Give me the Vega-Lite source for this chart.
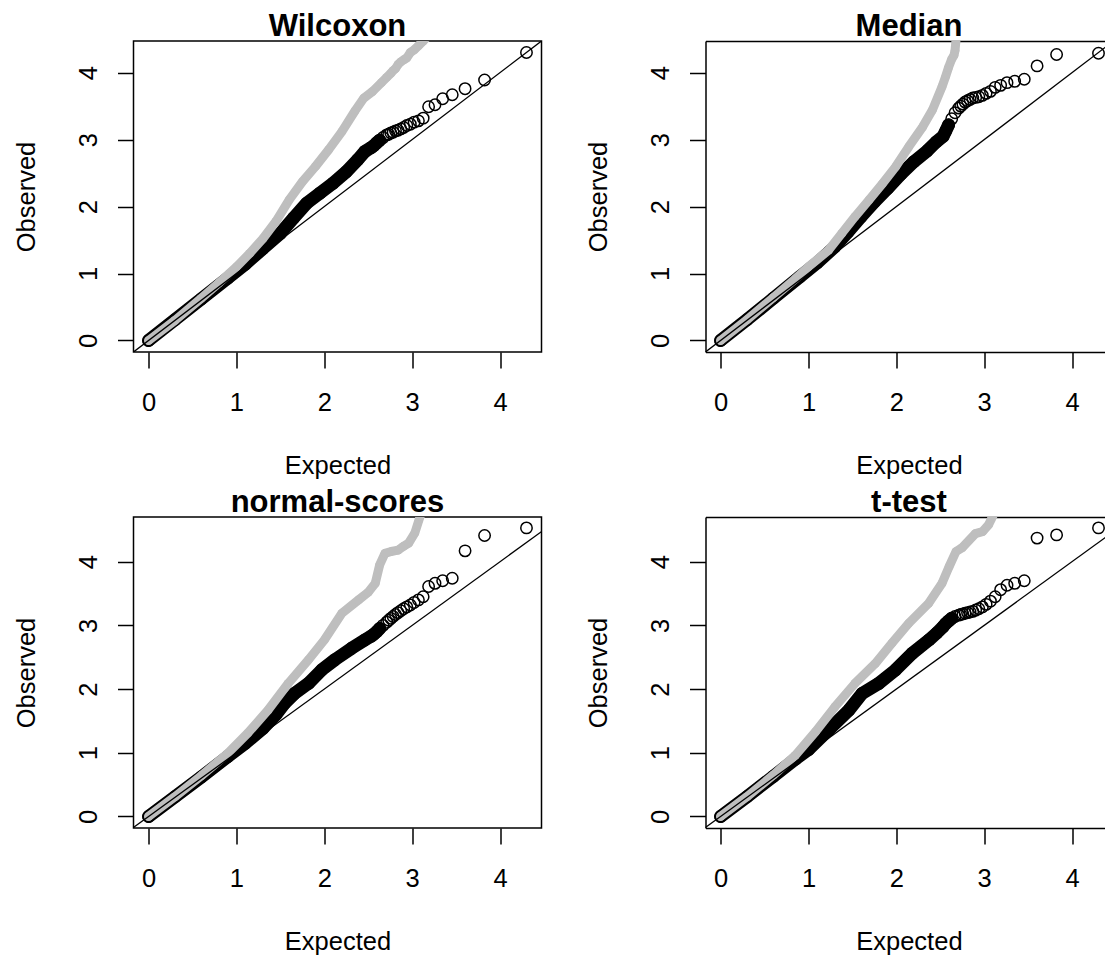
{
  "$schema": "https://vega.github.io/schema/vega-lite/v6.json",
  "padding": {"left": 12.5, "top": 10, "right": 0, "bottom": 0},
  "background": "white",
  "bounds": "flush",
  "columns": 2,
  "spacing": {"row": 165, "column": 164},
  "config": {
    "font": "Liberation Sans",
    "view": {"stroke": "black", "strokeWidth": 1.5},
    "axis": {
      "grid": false,
      "labelFont": "Liberation Sans", "labelFontSize": 25.5, "labelColor": "black",
      "titleFont": "Liberation Sans", "titleFontSize": 25.5, "titleFontWeight": "normal", "titleColor": "black",
      "tickColor": "black", "tickWidth": 1.5, "tickSize": 16,
      "domainColor": "black", "domainWidth": 1.5
    },
    "title": {"font": "Liberation Sans", "fontSize": 31, "fontWeight": "bold", "color": "black", "anchor": "middle", "baseline": "alphabetic", "offset": -2}
  },
  "datasets": {
    "ref": [{"x": -1, "y": -1}, {"x": 6, "y": 6}],
    "pts": [
      {"p": "Wilcoxon", "s": "A", "x": 0, "y": 0},
      {"p": "Wilcoxon", "s": "A", "x": 0.3, "y": 0.31},
      {"p": "Wilcoxon", "s": "A", "x": 0.6, "y": 0.62},
      {"p": "Wilcoxon", "s": "A", "x": 0.9, "y": 0.93},
      {"p": "Wilcoxon", "s": "A", "x": 1.1, "y": 1.14},
      {"p": "Wilcoxon", "s": "A", "x": 1.3, "y": 1.37},
      {"p": "Wilcoxon", "s": "A", "x": 1.5, "y": 1.6},
      {"p": "Wilcoxon", "s": "A", "x": 1.65, "y": 1.83},
      {"p": "Wilcoxon", "s": "A", "x": 1.8, "y": 2.05},
      {"p": "Wilcoxon", "s": "A", "x": 1.95, "y": 2.2},
      {"p": "Wilcoxon", "s": "A", "x": 2.1, "y": 2.35},
      {"p": "Wilcoxon", "s": "A", "x": 2.25, "y": 2.52},
      {"p": "Wilcoxon", "s": "A", "x": 2.38, "y": 2.7},
      {"p": "Wilcoxon", "s": "A", "x": 2.46, "y": 2.82},
      {"p": "Wilcoxon", "s": "A", "x": 2.533, "y": 2.88},
      {"p": "Wilcoxon", "s": "A", "x": 2.563, "y": 2.91},
      {"p": "Wilcoxon", "s": "A", "x": 2.595, "y": 2.95},
      {"p": "Wilcoxon", "s": "A", "x": 2.63, "y": 2.99},
      {"p": "Wilcoxon", "s": "A", "x": 2.668, "y": 3.03},
      {"p": "Wilcoxon", "s": "A", "x": 2.71, "y": 3.07},
      {"p": "Wilcoxon", "s": "A", "x": 2.733, "y": 3.08},
      {"p": "Wilcoxon", "s": "A", "x": 2.757, "y": 3.1},
      {"p": "Wilcoxon", "s": "A", "x": 2.783, "y": 3.11},
      {"p": "Wilcoxon", "s": "A", "x": 2.81, "y": 3.13},
      {"p": "Wilcoxon", "s": "A", "x": 2.839, "y": 3.14},
      {"p": "Wilcoxon", "s": "A", "x": 2.87, "y": 3.16},
      {"p": "Wilcoxon", "s": "A", "x": 2.903, "y": 3.18},
      {"p": "Wilcoxon", "s": "A", "x": 2.939, "y": 3.21},
      {"p": "Wilcoxon", "s": "A", "x": 2.979, "y": 3.23},
      {"p": "Wilcoxon", "s": "A", "x": 3.022, "y": 3.26},
      {"p": "Wilcoxon", "s": "A", "x": 3.071, "y": 3.28},
      {"p": "Wilcoxon", "s": "A", "x": 3.125, "y": 3.32},
      {"p": "Wilcoxon", "s": "A", "x": 3.187, "y": 3.49},
      {"p": "Wilcoxon", "s": "A", "x": 3.26, "y": 3.52},
      {"p": "Wilcoxon", "s": "A", "x": 3.347, "y": 3.61},
      {"p": "Wilcoxon", "s": "A", "x": 3.456, "y": 3.67},
      {"p": "Wilcoxon", "s": "A", "x": 3.602, "y": 3.76},
      {"p": "Wilcoxon", "s": "A", "x": 3.824, "y": 3.89},
      {"p": "Wilcoxon", "s": "A", "x": 4.301, "y": 4.3},
      {"p": "Wilcoxon", "s": "B", "x": 0, "y": 0},
      {"p": "Wilcoxon", "s": "B", "x": 0.3, "y": 0.3},
      {"p": "Wilcoxon", "s": "B", "x": 0.6, "y": 0.63},
      {"p": "Wilcoxon", "s": "B", "x": 0.8, "y": 0.86},
      {"p": "Wilcoxon", "s": "B", "x": 1.0, "y": 1.1},
      {"p": "Wilcoxon", "s": "B", "x": 1.15, "y": 1.3},
      {"p": "Wilcoxon", "s": "B", "x": 1.3, "y": 1.52},
      {"p": "Wilcoxon", "s": "B", "x": 1.45, "y": 1.78},
      {"p": "Wilcoxon", "s": "B", "x": 1.6, "y": 2.1},
      {"p": "Wilcoxon", "s": "B", "x": 1.75, "y": 2.37},
      {"p": "Wilcoxon", "s": "B", "x": 1.9, "y": 2.6},
      {"p": "Wilcoxon", "s": "B", "x": 2.05, "y": 2.85},
      {"p": "Wilcoxon", "s": "B", "x": 2.2, "y": 3.12},
      {"p": "Wilcoxon", "s": "B", "x": 2.35, "y": 3.43},
      {"p": "Wilcoxon", "s": "B", "x": 2.45, "y": 3.62},
      {"p": "Wilcoxon", "s": "B", "x": 2.55, "y": 3.72},
      {"p": "Wilcoxon", "s": "B", "x": 2.65, "y": 3.85},
      {"p": "Wilcoxon", "s": "B", "x": 2.71, "y": 3.93},
      {"p": "Wilcoxon", "s": "B", "x": 2.757, "y": 3.99},
      {"p": "Wilcoxon", "s": "B", "x": 2.783, "y": 4.03},
      {"p": "Wilcoxon", "s": "B", "x": 2.81, "y": 4.06},
      {"p": "Wilcoxon", "s": "B", "x": 2.839, "y": 4.12},
      {"p": "Wilcoxon", "s": "B", "x": 2.87, "y": 4.16},
      {"p": "Wilcoxon", "s": "B", "x": 2.903, "y": 4.19},
      {"p": "Wilcoxon", "s": "B", "x": 2.939, "y": 4.22},
      {"p": "Wilcoxon", "s": "B", "x": 2.979, "y": 4.3},
      {"p": "Wilcoxon", "s": "B", "x": 3.022, "y": 4.34},
      {"p": "Wilcoxon", "s": "B", "x": 3.071, "y": 4.4},
      {"p": "Wilcoxon", "s": "B", "x": 3.125, "y": 4.47},
      {"p": "Wilcoxon", "s": "B", "x": 3.187, "y": 4.56},

      {"p": "Median", "s": "A", "x": 0, "y": 0},
      {"p": "Median", "s": "A", "x": 0.3, "y": 0.31},
      {"p": "Median", "s": "A", "x": 0.6, "y": 0.63},
      {"p": "Median", "s": "A", "x": 0.9, "y": 0.95},
      {"p": "Median", "s": "A", "x": 1.1, "y": 1.16},
      {"p": "Median", "s": "A", "x": 1.3, "y": 1.4},
      {"p": "Median", "s": "A", "x": 1.45, "y": 1.62},
      {"p": "Median", "s": "A", "x": 1.6, "y": 1.85},
      {"p": "Median", "s": "A", "x": 1.75, "y": 2.07},
      {"p": "Median", "s": "A", "x": 1.9, "y": 2.27},
      {"p": "Median", "s": "A", "x": 2.05, "y": 2.48},
      {"p": "Median", "s": "A", "x": 2.2, "y": 2.67},
      {"p": "Median", "s": "A", "x": 2.35, "y": 2.83},
      {"p": "Median", "s": "A", "x": 2.45, "y": 2.96},
      {"p": "Median", "s": "A", "x": 2.533, "y": 3.05},
      {"p": "Median", "s": "A", "x": 2.563, "y": 3.13},
      {"p": "Median", "s": "A", "x": 2.595, "y": 3.22},
      {"p": "Median", "s": "A", "x": 2.63, "y": 3.31},
      {"p": "Median", "s": "A", "x": 2.668, "y": 3.4},
      {"p": "Median", "s": "A", "x": 2.71, "y": 3.47},
      {"p": "Median", "s": "A", "x": 2.733, "y": 3.5},
      {"p": "Median", "s": "A", "x": 2.757, "y": 3.53},
      {"p": "Median", "s": "A", "x": 2.783, "y": 3.56},
      {"p": "Median", "s": "A", "x": 2.81, "y": 3.58},
      {"p": "Median", "s": "A", "x": 2.839, "y": 3.6},
      {"p": "Median", "s": "A", "x": 2.87, "y": 3.62},
      {"p": "Median", "s": "A", "x": 2.903, "y": 3.63},
      {"p": "Median", "s": "A", "x": 2.939, "y": 3.64},
      {"p": "Median", "s": "A", "x": 2.979, "y": 3.66},
      {"p": "Median", "s": "A", "x": 3.022, "y": 3.69},
      {"p": "Median", "s": "A", "x": 3.071, "y": 3.72},
      {"p": "Median", "s": "A", "x": 3.125, "y": 3.78},
      {"p": "Median", "s": "A", "x": 3.187, "y": 3.81},
      {"p": "Median", "s": "A", "x": 3.26, "y": 3.85},
      {"p": "Median", "s": "A", "x": 3.347, "y": 3.87},
      {"p": "Median", "s": "A", "x": 3.456, "y": 3.9},
      {"p": "Median", "s": "A", "x": 3.602, "y": 4.1},
      {"p": "Median", "s": "A", "x": 3.824, "y": 4.27},
      {"p": "Median", "s": "A", "x": 4.301, "y": 4.29},
      {"p": "Median", "s": "B", "x": 0, "y": 0},
      {"p": "Median", "s": "B", "x": 0.3, "y": 0.31},
      {"p": "Median", "s": "B", "x": 0.6, "y": 0.64},
      {"p": "Median", "s": "B", "x": 0.85, "y": 0.92},
      {"p": "Median", "s": "B", "x": 1.0, "y": 1.1},
      {"p": "Median", "s": "B", "x": 1.23, "y": 1.35},
      {"p": "Median", "s": "B", "x": 1.38, "y": 1.6},
      {"p": "Median", "s": "B", "x": 1.53, "y": 1.85},
      {"p": "Median", "s": "B", "x": 1.69, "y": 2.1},
      {"p": "Median", "s": "B", "x": 1.84, "y": 2.34},
      {"p": "Median", "s": "B", "x": 1.99, "y": 2.59},
      {"p": "Median", "s": "B", "x": 2.14, "y": 2.89},
      {"p": "Median", "s": "B", "x": 2.3, "y": 3.19},
      {"p": "Median", "s": "B", "x": 2.41, "y": 3.44},
      {"p": "Median", "s": "B", "x": 2.52, "y": 3.79},
      {"p": "Median", "s": "B", "x": 2.563, "y": 3.95},
      {"p": "Median", "s": "B", "x": 2.595, "y": 4.08},
      {"p": "Median", "s": "B", "x": 2.63, "y": 4.2},
      {"p": "Median", "s": "B", "x": 2.656, "y": 4.26},
      {"p": "Median", "s": "B", "x": 2.668, "y": 4.33},
      {"p": "Median", "s": "B", "x": 2.68, "y": 4.5},

      {"p": "normal-scores", "s": "A", "x": 0, "y": 0},
      {"p": "normal-scores", "s": "A", "x": 0.3, "y": 0.31},
      {"p": "normal-scores", "s": "A", "x": 0.6, "y": 0.62},
      {"p": "normal-scores", "s": "A", "x": 0.9, "y": 0.94},
      {"p": "normal-scores", "s": "A", "x": 1.1, "y": 1.15},
      {"p": "normal-scores", "s": "A", "x": 1.3, "y": 1.38},
      {"p": "normal-scores", "s": "A", "x": 1.45, "y": 1.6},
      {"p": "normal-scores", "s": "A", "x": 1.55, "y": 1.78},
      {"p": "normal-scores", "s": "A", "x": 1.66, "y": 1.93},
      {"p": "normal-scores", "s": "A", "x": 1.82, "y": 2.09},
      {"p": "normal-scores", "s": "A", "x": 1.97, "y": 2.3},
      {"p": "normal-scores", "s": "A", "x": 2.12, "y": 2.46},
      {"p": "normal-scores", "s": "A", "x": 2.31, "y": 2.64},
      {"p": "normal-scores", "s": "A", "x": 2.46, "y": 2.77},
      {"p": "normal-scores", "s": "A", "x": 2.533, "y": 2.83},
      {"p": "normal-scores", "s": "A", "x": 2.563, "y": 2.86},
      {"p": "normal-scores", "s": "A", "x": 2.595, "y": 2.9},
      {"p": "normal-scores", "s": "A", "x": 2.63, "y": 2.95},
      {"p": "normal-scores", "s": "A", "x": 2.668, "y": 3.0},
      {"p": "normal-scores", "s": "A", "x": 2.71, "y": 3.05},
      {"p": "normal-scores", "s": "A", "x": 2.733, "y": 3.08},
      {"p": "normal-scores", "s": "A", "x": 2.757, "y": 3.11},
      {"p": "normal-scores", "s": "A", "x": 2.783, "y": 3.14},
      {"p": "normal-scores", "s": "A", "x": 2.81, "y": 3.17},
      {"p": "normal-scores", "s": "A", "x": 2.839, "y": 3.2},
      {"p": "normal-scores", "s": "A", "x": 2.87, "y": 3.23},
      {"p": "normal-scores", "s": "A", "x": 2.903, "y": 3.26},
      {"p": "normal-scores", "s": "A", "x": 2.939, "y": 3.29},
      {"p": "normal-scores", "s": "A", "x": 2.979, "y": 3.32},
      {"p": "normal-scores", "s": "A", "x": 3.022, "y": 3.36},
      {"p": "normal-scores", "s": "A", "x": 3.071, "y": 3.4},
      {"p": "normal-scores", "s": "A", "x": 3.125, "y": 3.45},
      {"p": "normal-scores", "s": "A", "x": 3.187, "y": 3.61},
      {"p": "normal-scores", "s": "A", "x": 3.26, "y": 3.66},
      {"p": "normal-scores", "s": "A", "x": 3.347, "y": 3.7},
      {"p": "normal-scores", "s": "A", "x": 3.456, "y": 3.74},
      {"p": "normal-scores", "s": "A", "x": 3.602, "y": 4.17},
      {"p": "normal-scores", "s": "A", "x": 3.824, "y": 4.41},
      {"p": "normal-scores", "s": "A", "x": 4.301, "y": 4.53},
      {"p": "normal-scores", "s": "B", "x": 0, "y": 0},
      {"p": "normal-scores", "s": "B", "x": 0.3, "y": 0.31},
      {"p": "normal-scores", "s": "B", "x": 0.6, "y": 0.64},
      {"p": "normal-scores", "s": "B", "x": 0.9, "y": 0.99},
      {"p": "normal-scores", "s": "B", "x": 1.13, "y": 1.31},
      {"p": "normal-scores", "s": "B", "x": 1.36, "y": 1.67},
      {"p": "normal-scores", "s": "B", "x": 1.59, "y": 2.09},
      {"p": "normal-scores", "s": "B", "x": 1.82, "y": 2.46},
      {"p": "normal-scores", "s": "B", "x": 2.0, "y": 2.77},
      {"p": "normal-scores", "s": "B", "x": 2.2, "y": 3.19},
      {"p": "normal-scores", "s": "B", "x": 2.39, "y": 3.4},
      {"p": "normal-scores", "s": "B", "x": 2.5, "y": 3.52},
      {"p": "normal-scores", "s": "B", "x": 2.58, "y": 3.66},
      {"p": "normal-scores", "s": "B", "x": 2.63, "y": 3.95},
      {"p": "normal-scores", "s": "B", "x": 2.69, "y": 4.13},
      {"p": "normal-scores", "s": "B", "x": 2.76, "y": 4.16},
      {"p": "normal-scores", "s": "B", "x": 2.84, "y": 4.18},
      {"p": "normal-scores", "s": "B", "x": 2.9, "y": 4.24},
      {"p": "normal-scores", "s": "B", "x": 2.96, "y": 4.29},
      {"p": "normal-scores", "s": "B", "x": 3.03, "y": 4.45},
      {"p": "normal-scores", "s": "B", "x": 3.09, "y": 4.71},

      {"p": "t-test", "s": "A", "x": 0, "y": 0},
      {"p": "t-test", "s": "A", "x": 0.3, "y": 0.31},
      {"p": "t-test", "s": "A", "x": 0.6, "y": 0.63},
      {"p": "t-test", "s": "A", "x": 0.85, "y": 0.9},
      {"p": "t-test", "s": "A", "x": 1.0, "y": 1.05},
      {"p": "t-test", "s": "A", "x": 1.23, "y": 1.36},
      {"p": "t-test", "s": "A", "x": 1.46, "y": 1.67},
      {"p": "t-test", "s": "A", "x": 1.61, "y": 1.93},
      {"p": "t-test", "s": "A", "x": 1.8, "y": 2.09},
      {"p": "t-test", "s": "A", "x": 1.99, "y": 2.3},
      {"p": "t-test", "s": "A", "x": 2.18, "y": 2.56},
      {"p": "t-test", "s": "A", "x": 2.37, "y": 2.77},
      {"p": "t-test", "s": "A", "x": 2.46, "y": 2.88},
      {"p": "t-test", "s": "A", "x": 2.533, "y": 2.98},
      {"p": "t-test", "s": "A", "x": 2.563, "y": 3.03},
      {"p": "t-test", "s": "A", "x": 2.595, "y": 3.07},
      {"p": "t-test", "s": "A", "x": 2.63, "y": 3.11},
      {"p": "t-test", "s": "A", "x": 2.668, "y": 3.14},
      {"p": "t-test", "s": "A", "x": 2.71, "y": 3.16},
      {"p": "t-test", "s": "A", "x": 2.733, "y": 3.17},
      {"p": "t-test", "s": "A", "x": 2.757, "y": 3.18},
      {"p": "t-test", "s": "A", "x": 2.783, "y": 3.19},
      {"p": "t-test", "s": "A", "x": 2.81, "y": 3.2},
      {"p": "t-test", "s": "A", "x": 2.839, "y": 3.21},
      {"p": "t-test", "s": "A", "x": 2.87, "y": 3.22},
      {"p": "t-test", "s": "A", "x": 2.903, "y": 3.24},
      {"p": "t-test", "s": "A", "x": 2.939, "y": 3.26},
      {"p": "t-test", "s": "A", "x": 2.979, "y": 3.29},
      {"p": "t-test", "s": "A", "x": 3.022, "y": 3.33},
      {"p": "t-test", "s": "A", "x": 3.071, "y": 3.38},
      {"p": "t-test", "s": "A", "x": 3.125, "y": 3.45},
      {"p": "t-test", "s": "A", "x": 3.187, "y": 3.56},
      {"p": "t-test", "s": "A", "x": 3.26, "y": 3.63},
      {"p": "t-test", "s": "A", "x": 3.347, "y": 3.66},
      {"p": "t-test", "s": "A", "x": 3.456, "y": 3.7},
      {"p": "t-test", "s": "A", "x": 3.602, "y": 4.37},
      {"p": "t-test", "s": "A", "x": 3.824, "y": 4.42},
      {"p": "t-test", "s": "A", "x": 4.301, "y": 4.53},
      {"p": "t-test", "s": "B", "x": 0, "y": 0},
      {"p": "t-test", "s": "B", "x": 0.3, "y": 0.31},
      {"p": "t-test", "s": "B", "x": 0.6, "y": 0.65},
      {"p": "t-test", "s": "B", "x": 0.85, "y": 0.96},
      {"p": "t-test", "s": "B", "x": 1.08, "y": 1.33},
      {"p": "t-test", "s": "B", "x": 1.3, "y": 1.72},
      {"p": "t-test", "s": "B", "x": 1.53, "y": 2.09},
      {"p": "t-test", "s": "B", "x": 1.76, "y": 2.4},
      {"p": "t-test", "s": "B", "x": 1.95, "y": 2.72},
      {"p": "t-test", "s": "B", "x": 2.14, "y": 3.03},
      {"p": "t-test", "s": "B", "x": 2.37, "y": 3.35},
      {"p": "t-test", "s": "B", "x": 2.52, "y": 3.66},
      {"p": "t-test", "s": "B", "x": 2.6, "y": 3.92},
      {"p": "t-test", "s": "B", "x": 2.68, "y": 4.16},
      {"p": "t-test", "s": "B", "x": 2.75, "y": 4.22},
      {"p": "t-test", "s": "B", "x": 2.9, "y": 4.44},
      {"p": "t-test", "s": "B", "x": 2.98, "y": 4.47},
      {"p": "t-test", "s": "B", "x": 3.05, "y": 4.58},
      {"p": "t-test", "s": "B", "x": 3.1, "y": 4.72}
    ]
  },
  "concat": [
    {
      "title": {"text": "Wilcoxon"},
      "width": 408, "height": 311,
      "encoding": {
        "x": {"field": "x", "type": "quantitative", "scale": {"domain": [-0.172, 4.472], "nice": false, "zero": false}},
        "y": {"field": "y", "type": "quantitative", "scale": {"domain": [-0.172, 4.472], "nice": false, "zero": false}}
      },
      "layer": [
        {"data": {"name": "pts"}, "transform": [{"filter": "datum.p == 'Wilcoxon' && datum.s == 'A' && datum.x <= 2.64"}],
         "mark": {"type": "line", "color": "black", "strokeWidth": 13, "strokeCap": "round", "strokeJoin": "round", "clip": true},
         "encoding": {
           "x": {"field": "x", "type": "quantitative", "scale": {"domain": [-0.172, 4.472], "nice": false, "zero": false},
                 "axis": {"orient": "bottom", "values": [0, 1, 2, 3, 4], "format": "d", "title": "Expected", "titleX": 204, "titleY": 121, "titleAlign": "center", "titleBaseline": "alphabetic", "titleAngle": 0, "labelPadding": 42, "labelBaseline": "alphabetic", "labelAlign": "center", "labelFlush": false, "labelOverlap": false, "domain": false}},
           "y": {"field": "y", "type": "quantitative", "scale": {"domain": [-0.172, 4.472], "nice": false, "zero": false},
                 "axis": {"orient": "left", "values": [0, 1, 2, 3, 4], "format": "d", "title": "Observed", "titleX": -99.5, "titleY": 155.5, "titleAngle": 270, "titleAlign": "center", "titleBaseline": "alphabetic", "labelAngle": 270, "labelAlign": "center", "labelBaseline": "middle", "labelPadding": 28.6, "labelFlush": false, "labelOverlap": false, "domain": false}}
         }},
        {"data": {"name": "pts"}, "transform": [{"filter": "datum.p == 'Wilcoxon' && datum.s == 'A'"}],
         "mark": {"type": "point", "shape": "circle", "filled": false, "color": "black", "strokeWidth": 1.5, "size": 130, "opacity": 1, "clip": true}},
        {"data": {"name": "pts"}, "transform": [{"filter": "datum.p == 'Wilcoxon' && datum.s == 'B'"}],
         "mark": {"type": "line", "color": "#bebebe", "strokeWidth": 9, "strokeCap": "round", "strokeJoin": "round", "clip": true}},
        {"data": {"name": "pts"}, "transform": [{"filter": "datum.p == 'Wilcoxon' && datum.s == 'B'"}],
         "mark": {"type": "circle", "color": "#bebebe", "size": 75, "opacity": 1, "clip": true}},
        {"data": {"name": "ref"}, "mark": {"type": "line", "color": "black", "strokeWidth": 1.3, "clip": true}}
      ]
    },
    {
      "title": {"text": "Median", "dx": 3},
      "width": 401, "height": 311,
      "view": {"stroke": null},
      "encoding": {
        "x": {"field": "x", "type": "quantitative", "scale": {"domain": [-0.172, 4.392], "nice": false, "zero": false}, "axis": null},
        "y": {"field": "y", "type": "quantitative", "scale": {"domain": [-0.172, 4.472], "nice": false, "zero": false}}
      },
      "layer": [
        {"data": {"name": "pts"}, "transform": [{"filter": "datum.p == 'Median' && datum.s == 'A' && datum.x <= 2.6"}],
         "mark": {"type": "line", "color": "black", "strokeWidth": 13, "strokeCap": "round", "strokeJoin": "round", "clip": true},
         "encoding": {
           "x": {"field": "x", "type": "quantitative", "scale": {"domain": [-0.172, 4.392], "nice": false, "zero": false},
                 "axis": {"orient": "bottom", "values": [0, 1, 2, 3, 4], "format": "d", "title": "Expected", "titleX": 203.4, "titleY": 121, "titleAlign": "center", "titleBaseline": "alphabetic", "titleAngle": 0, "labelPadding": 42, "labelBaseline": "alphabetic", "labelAlign": "center", "labelFlush": false, "labelOverlap": false, "domain": true}},
           "y": {"field": "y", "type": "quantitative", "scale": {"domain": [-0.172, 4.472], "nice": false, "zero": false},
                 "axis": {"orient": "left", "values": [0, 1, 2, 3, 4], "format": "d", "title": "Observed", "titleX": -99.5, "titleY": 155.5, "titleAngle": 270, "titleAlign": "center", "titleBaseline": "alphabetic", "labelAngle": 270, "labelAlign": "center", "labelBaseline": "middle", "labelPadding": 28.6, "labelFlush": false, "labelOverlap": false, "domain": true}}
         }},
        {"data": {"name": "pts"}, "transform": [{"filter": "datum.p == 'Median' && datum.s == 'A'"}],
         "mark": {"type": "point", "shape": "circle", "filled": false, "color": "black", "strokeWidth": 1.5, "size": 130, "opacity": 1, "clip": true}},
        {"data": {"name": "pts"}, "transform": [{"filter": "datum.p == 'Median' && datum.s == 'B'"}],
         "mark": {"type": "line", "color": "#bebebe", "strokeWidth": 9, "strokeCap": "round", "strokeJoin": "round", "clip": true}},
        {"data": {"name": "pts"}, "transform": [{"filter": "datum.p == 'Median' && datum.s == 'B'"}],
         "mark": {"type": "circle", "color": "#bebebe", "size": 75, "opacity": 1, "clip": true}},
        {"data": {"name": "ref"}, "mark": {"type": "line", "color": "black", "strokeWidth": 1.3, "clip": true},
         "encoding": {
           "x": {"field": "x", "type": "quantitative", "scale": {"domain": [-0.172, 4.392], "nice": false, "zero": false},
                 "axis": {"orient": "top", "ticks": false, "labels": false, "title": null, "domain": true, "grid": false}}
         }}
      ]
    },
    {
      "title": {"text": "normal-scores"},
      "width": 408, "height": 311,
      "encoding": {
        "x": {"field": "x", "type": "quantitative", "scale": {"domain": [-0.172, 4.472], "nice": false, "zero": false}},
        "y": {"field": "y", "type": "quantitative", "scale": {"domain": [-0.181, 4.701], "nice": false, "zero": false}}
      },
      "layer": [
        {"data": {"name": "pts"}, "transform": [{"filter": "datum.p == 'normal-scores' && datum.s == 'A' && datum.x <= 2.64"}],
         "mark": {"type": "line", "color": "black", "strokeWidth": 13, "strokeCap": "round", "strokeJoin": "round", "clip": true},
         "encoding": {
           "x": {"field": "x", "type": "quantitative", "scale": {"domain": [-0.172, 4.472], "nice": false, "zero": false},
                 "axis": {"orient": "bottom", "values": [0, 1, 2, 3, 4], "format": "d", "title": "Expected", "titleX": 204, "titleY": 121, "titleAlign": "center", "titleBaseline": "alphabetic", "titleAngle": 0, "labelPadding": 42, "labelBaseline": "alphabetic", "labelAlign": "center", "labelFlush": false, "labelOverlap": false, "domain": false}},
           "y": {"field": "y", "type": "quantitative", "scale": {"domain": [-0.181, 4.701], "nice": false, "zero": false},
                 "axis": {"orient": "left", "values": [0, 1, 2, 3, 4], "format": "d", "title": "Observed", "titleX": -99.5, "titleY": 155.5, "titleAngle": 270, "titleAlign": "center", "titleBaseline": "alphabetic", "labelAngle": 270, "labelAlign": "center", "labelBaseline": "middle", "labelPadding": 28.6, "labelFlush": false, "labelOverlap": false, "domain": false}}
         }},
        {"data": {"name": "pts"}, "transform": [{"filter": "datum.p == 'normal-scores' && datum.s == 'A'"}],
         "mark": {"type": "point", "shape": "circle", "filled": false, "color": "black", "strokeWidth": 1.5, "size": 130, "opacity": 1, "clip": true}},
        {"data": {"name": "pts"}, "transform": [{"filter": "datum.p == 'normal-scores' && datum.s == 'B'"}],
         "mark": {"type": "line", "color": "#bebebe", "strokeWidth": 9, "strokeCap": "round", "strokeJoin": "round", "clip": true}},
        {"data": {"name": "pts"}, "transform": [{"filter": "datum.p == 'normal-scores' && datum.s == 'B'"}],
         "mark": {"type": "circle", "color": "#bebebe", "size": 75, "opacity": 1, "clip": true}},
        {"data": {"name": "ref"}, "mark": {"type": "line", "color": "black", "strokeWidth": 1.3, "clip": true}}
      ]
    },
    {
      "title": {"text": "t-test", "dx": 3},
      "width": 401, "height": 311,
      "view": {"stroke": null},
      "encoding": {
        "x": {"field": "x", "type": "quantitative", "scale": {"domain": [-0.172, 4.392], "nice": false, "zero": false}, "axis": null},
        "y": {"field": "y", "type": "quantitative", "scale": {"domain": [-0.181, 4.701], "nice": false, "zero": false}}
      },
      "layer": [
        {"data": {"name": "pts"}, "transform": [{"filter": "datum.p == 't-test' && datum.s == 'A' && datum.x <= 2.64"}],
         "mark": {"type": "line", "color": "black", "strokeWidth": 13, "strokeCap": "round", "strokeJoin": "round", "clip": true},
         "encoding": {
           "x": {"field": "x", "type": "quantitative", "scale": {"domain": [-0.172, 4.392], "nice": false, "zero": false},
                 "axis": {"orient": "bottom", "values": [0, 1, 2, 3, 4], "format": "d", "title": "Expected", "titleX": 203.4, "titleY": 121, "titleAlign": "center", "titleBaseline": "alphabetic", "titleAngle": 0, "labelPadding": 42, "labelBaseline": "alphabetic", "labelAlign": "center", "labelFlush": false, "labelOverlap": false, "domain": true}},
           "y": {"field": "y", "type": "quantitative", "scale": {"domain": [-0.181, 4.701], "nice": false, "zero": false},
                 "axis": {"orient": "left", "values": [0, 1, 2, 3, 4], "format": "d", "title": "Observed", "titleX": -99.5, "titleY": 155.5, "titleAngle": 270, "titleAlign": "center", "titleBaseline": "alphabetic", "labelAngle": 270, "labelAlign": "center", "labelBaseline": "middle", "labelPadding": 28.6, "labelFlush": false, "labelOverlap": false, "domain": true}}
         }},
        {"data": {"name": "pts"}, "transform": [{"filter": "datum.p == 't-test' && datum.s == 'A'"}],
         "mark": {"type": "point", "shape": "circle", "filled": false, "color": "black", "strokeWidth": 1.5, "size": 130, "opacity": 1, "clip": true}},
        {"data": {"name": "pts"}, "transform": [{"filter": "datum.p == 't-test' && datum.s == 'B'"}],
         "mark": {"type": "line", "color": "#bebebe", "strokeWidth": 9, "strokeCap": "round", "strokeJoin": "round", "clip": true}},
        {"data": {"name": "pts"}, "transform": [{"filter": "datum.p == 't-test' && datum.s == 'B'"}],
         "mark": {"type": "circle", "color": "#bebebe", "size": 75, "opacity": 1, "clip": true}},
        {"data": {"name": "ref"}, "mark": {"type": "line", "color": "black", "strokeWidth": 1.3, "clip": true},
         "encoding": {
           "x": {"field": "x", "type": "quantitative", "scale": {"domain": [-0.172, 4.392], "nice": false, "zero": false},
                 "axis": {"orient": "top", "ticks": false, "labels": false, "title": null, "domain": true, "grid": false}}
         }}
      ]
    }
  ]
}
